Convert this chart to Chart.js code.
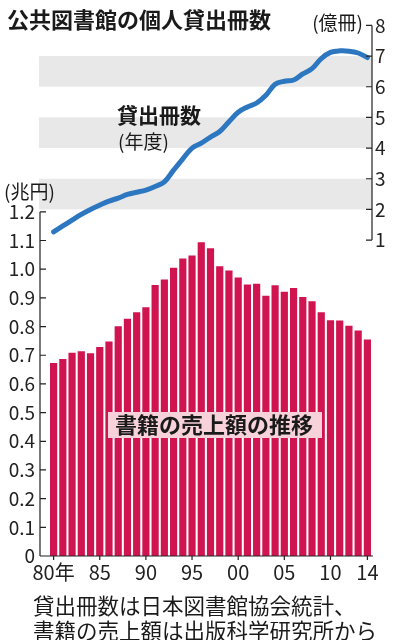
<!DOCTYPE html>
<html>
<head>
<meta charset="utf-8">
<script src="https://cdn.jsdelivr.net/npm/chart.js@4"></script>
<style>
  body { margin: 0; background: #fff; }
  canvas { display: block; }
</style>
</head>
<body>
<canvas id="grafico" width="396" height="640"></canvas>
<script>
// 年（カテゴリ）
const years = [1980, 1981, 1982, 1983, 1984, 1985, 1986, 1987, 1988, 1989,
  1990, 1991, 1992, 1993, 1994, 1995, 1996, 1997, 1998, 1999,
  2000, 2001, 2002, 2003, 2004, 2005, 2006, 2007, 2008, 2009,
  2010, 2011, 2012, 2013, 2014];

// 書籍の売上額（兆円）
const sales = [0.673, 0.687, 0.709, 0.714, 0.707, 0.729, 0.748, 0.801, 0.827, 0.850,
  0.867, 0.945, 0.964, 1.005, 1.037, 1.048, 1.094, 1.073, 1.010, 0.995,
  0.971, 0.947, 0.949, 0.907, 0.944, 0.921, 0.934, 0.903, 0.888, 0.850,
  0.822, 0.821, 0.803, 0.786, 0.755];

// 貸出冊数（億冊）
const loans = [1.27, 1.46, 1.65, 1.84, 2.00, 2.14, 2.27, 2.37, 2.49, 2.56,
  2.63, 2.75, 2.90, 3.28, 3.65, 4.00, 4.16, 4.36, 4.54, 4.86,
  5.17, 5.34, 5.47, 5.72, 6.08, 6.18, 6.22, 6.42, 6.59, 6.92,
  7.12, 7.17, 7.16, 7.10, 6.95];

const xTickYears = [1980, 1985, 1990, 1995, 2000, 2005, 2010, 2014];
const xTickLabels = ['80年', '85', '90', '95', '00', '05', '10', '14'];
const salesTicks = [0, 0.1, 0.2, 0.3, 0.4, 0.5, 0.6, 0.7, 0.8, 0.9, 1.0, 1.1, 1.2];
const loanTicks = [1, 2, 3, 4, 5, 6, 7, 8];
const bands = [[2, 3], [4, 5], [6, 7]];

const FONT = "'Noto Sans CJK JP', 'Noto Sans', sans-serif";
Chart.defaults.font.family = FONT;
Chart.defaults.color = '#222';

// o eixo esquerdo fica um pouco à esquerda da primeira barra
const AXIS_GAP = 9;

const decor = {
  id: 'decor',
  beforeDatasetsDraw(chart) {
    const ctx = chart.ctx;
    const a = chart.chartArea;
    const y1 = chart.scales.y1;
    ctx.save();
    ctx.fillStyle = '#e8e8e8';
    bands.forEach(function (b) {
      const top = y1.getPixelForValue(b[1]);
      const bot = y1.getPixelForValue(b[0]);
      ctx.fillRect(a.left - AXIS_GAP - 1, top, a.right - a.left + AXIS_GAP + 1, bot - top);
    });
    ctx.restore();
  },
  afterDatasetsDraw(chart) {
    const ctx = chart.ctx;
    const a = chart.chartArea;
    const y = chart.scales.y;
    const y1 = chart.scales.y1;
    const x = chart.scales.x;
    const lx = a.left - AXIS_GAP;
    ctx.save();
    ctx.strokeStyle = '#222';
    ctx.lineWidth = 1.2;
    ctx.beginPath();
    // eixo esquerdo
    ctx.moveTo(lx, y.getPixelForValue(0));
    ctx.lineTo(lx, y.getPixelForValue(1.2));
    salesTicks.forEach(function (v) {
      const py = y.getPixelForValue(v);
      ctx.moveTo(lx, py);
      ctx.lineTo(lx + 6, py);
    });
    // eixo direito
    ctx.moveTo(a.right, y1.getPixelForValue(1));
    ctx.lineTo(a.right, y1.getPixelForValue(8));
    loanTicks.forEach(function (v) {
      const py = y1.getPixelForValue(v);
      ctx.moveTo(a.right, py);
      ctx.lineTo(a.right - 6, py);
    });
    // eixo x
    ctx.moveTo(lx, a.bottom);
    ctx.lineTo(a.right + 1, a.bottom);
    xTickYears.forEach(function (yr) {
      const px = x.getPixelForValue(years.indexOf(yr));
      ctx.moveTo(px, a.bottom);
      ctx.lineTo(px, a.bottom + 4);
    });
    ctx.stroke();

    // rótulo das barras
    ctx.fillStyle = '#f8d2db';
    ctx.fillRect(108, 412, 214, 26);
    ctx.fillStyle = '#1a1a1a';
    ctx.font = 'bold 22px ' + FONT;
    ctx.textAlign = 'center';
    ctx.textBaseline = 'middle';
    ctx.fillText('書籍の売上額の推移', 214, 425);
    ctx.restore();
  },
  afterDraw(chart) {
    const ctx = chart.ctx;
    ctx.save();
    ctx.fillStyle = '#1a1a1a';
    ctx.textBaseline = 'middle';
    ctx.textAlign = 'left';
    ctx.font = 'bold 22px ' + FONT;
    ctx.fillText('公共図書館の個人貸出冊数', 7, 20);
    ctx.font = 'bold 21px ' + FONT;
    ctx.fillText('貸出冊数', 117, 115);
    ctx.font = '19px ' + FONT;
    ctx.fillText('(年度)', 118, 142);
    ctx.fillText('(兆円)', 4, 192);
    ctx.textAlign = 'right';
    ctx.fillText('(億冊)', 363, 23);
    ctx.textAlign = 'left';
    ctx.font = '21.5px ' + FONT;
    ctx.fillText('貸出冊数は日本図書館協会統計、', 33, 606);
    ctx.fillText('書籍の売上額は出版科学研究所から', 33, 631);
    ctx.restore();
  }
};

const ctx = document.getElementById('grafico').getContext('2d');
const grafico = new Chart(ctx, {
  type: 'bar',
  data: {
    labels: years,
    datasets: [
      {
        type: 'line',
        label: '貸出冊数',
        data: loans,
        yAxisID: 'y1',
        borderColor: '#2d77c0',
        borderWidth: 5,
        borderCapStyle: 'round',
        pointRadius: 0,
        tension: 0.35,
        fill: false,
        order: 1,
      },
      {
        label: '書籍の売上額',
        data: sales,
        yAxisID: 'y',
        backgroundColor: '#d01450',
        barPercentage: 0.78,
        categoryPercentage: 1,
        order: 2,
      },
    ],
  },
  options: {
    responsive: false,
    animation: false,
    clip: false,
    layout: { padding: { top: 25 } },
    plugins: {
      legend: { display: false },
      tooltip: { enabled: false },
    },
    scales: {
      x: {
        offset: true,
        afterFit: function (s) { s.height = 84; },
        border: { display: false },
        grid: { display: false, drawTicks: false },
        ticks: {
          autoSkip: false,
          maxRotation: 0,
          padding: 4,
          font: { size: 20 },
          color: '#222',
          callback: function (val, i) {
            const k = xTickYears.indexOf(years[i]);
            return k >= 0 ? xTickLabels[k] : '';
          },
        },
      },
      y: {
        position: 'left',
        min: 0,
        max: 1.85,
        afterFit: function (s) { s.width = 49; },
        afterBuildTicks: function (s) {
          s.ticks = salesTicks.map(function (v) { return { value: v }; });
        },
        border: { display: false },
        grid: { display: false, drawTicks: false },
        ticks: {
          padding: 14,
          font: { size: 19 },
          color: '#222',
          callback: function (v) { return v === 0 ? '0' : v.toFixed(1); },
        },
      },
      y1: {
        position: 'right',
        min: -9.3,
        max: 8,
        afterFit: function (s) { s.width = 24; },
        afterBuildTicks: function (s) {
          s.ticks = loanTicks.map(function (v) { return { value: v }; });
        },
        border: { display: false },
        grid: { display: false, drawTicks: false },
        ticks: {
          padding: 3,
          font: { size: 19 },
          color: '#222',
        },
      },
    },
  },
  plugins: [decor],
});
</script>
</body>
</html>
